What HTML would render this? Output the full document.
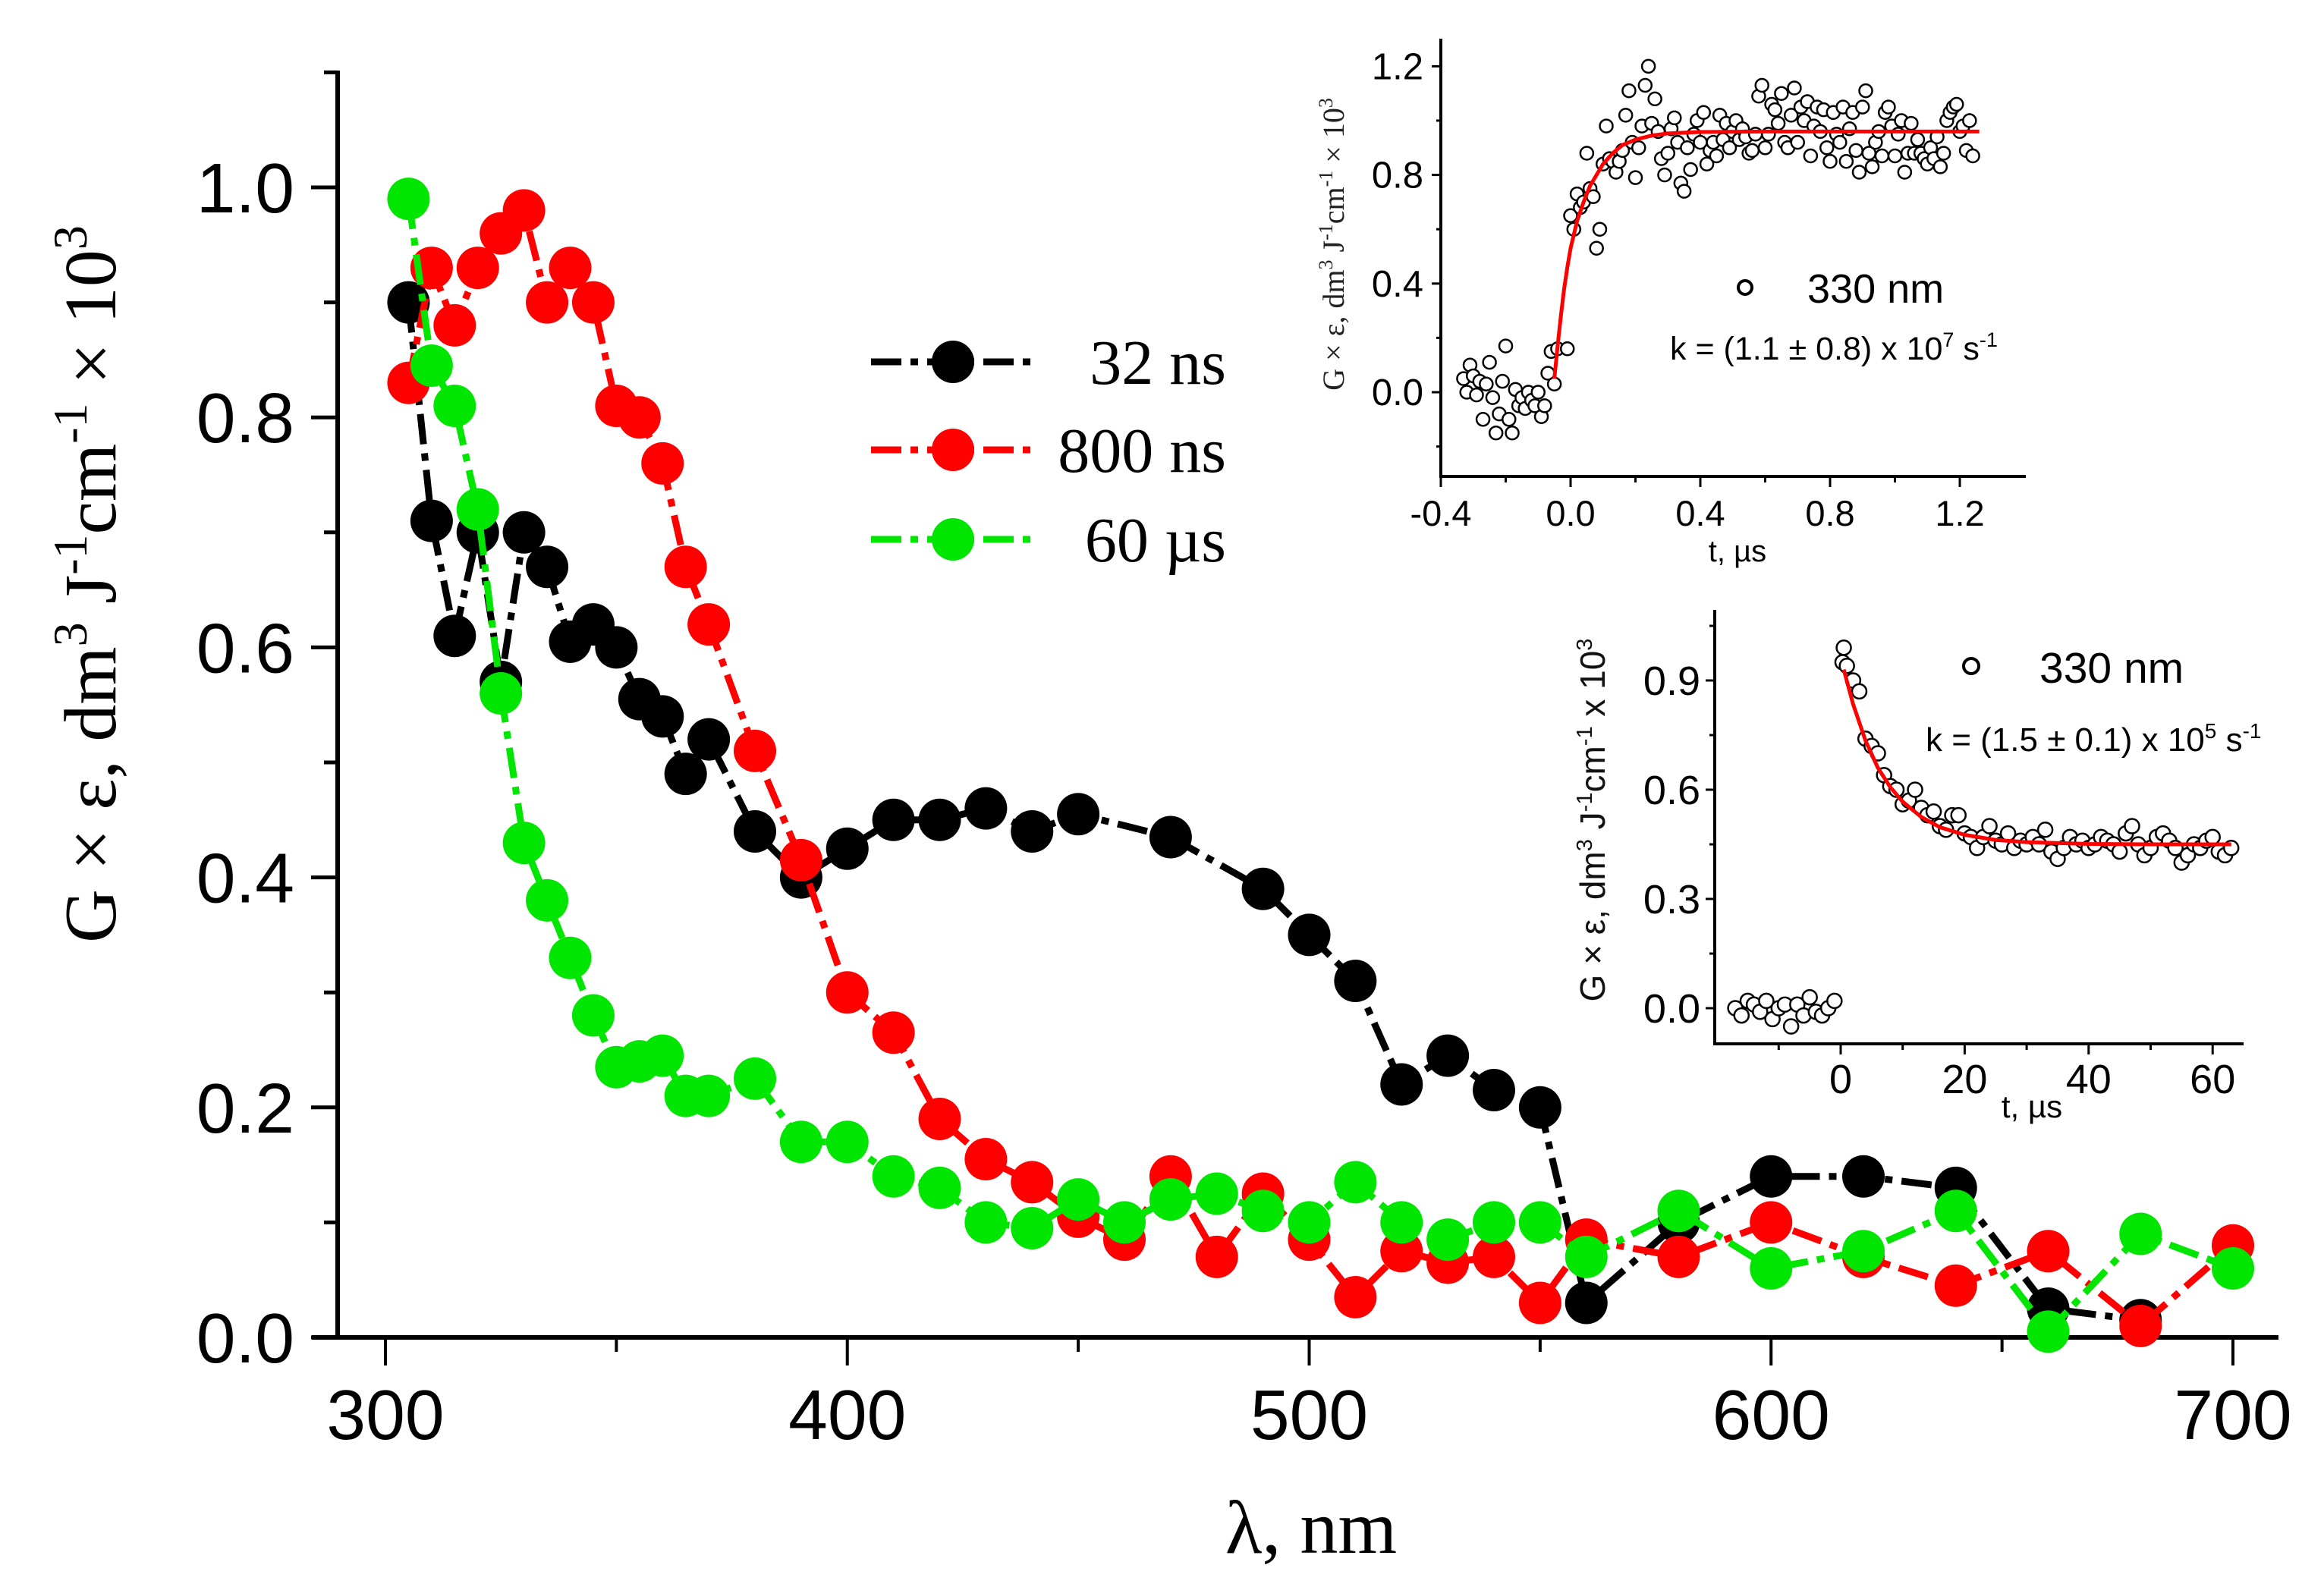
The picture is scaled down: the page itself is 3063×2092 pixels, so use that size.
<!DOCTYPE html>
<html><head><meta charset="utf-8"><style>
html,body{margin:0;padding:0;background:#fff}
svg{display:block}
.ar{font-family:"Liberation Sans",Arial,sans-serif}
.tm{font-family:"Liberation Serif","Times New Roman",serif}
</style></head><body>
<svg id="chart" width="3063" height="2092" viewBox="0 0 3063 2092" xmlns="http://www.w3.org/2000/svg">
<g id="main"></g>
<g id="in1"></g>
<g id="in2"></g>
</svg>
<script>
// ---- main chart data ----
const wl32 = [305,310,315,320,325,330,335,340,345,350,355,360,365,370,380,390,400,410,420,430,440,450,470,490,500,510,520,530,540,550,560,580,600,620,640,660,680];
const val32 = [0.90,0.71,0.61,0.70,0.57,0.70,0.67,0.605,0.62,0.60,0.555,0.54,0.49,0.52,0.44,0.40,0.425,0.45,0.45,0.46,0.44,0.455,0.435,0.39,0.35,0.31,0.22,0.245,0.215,0.20,0.03,0.10,0.14,0.14,0.13,0.025,0.015];
const wl800 = [305,310,315,320,325,330,335,340,345,350,355,360,365,370,380,390,400,410,420,430,440,450,460,470,480,490,500,510,520,530,540,550,560,580,600,620,640,660,680,700];
const val800 = [0.83,0.93,0.88,0.93,0.96,0.98,0.90,0.93,0.90,0.81,0.80,0.76,0.67,0.62,0.51,0.415,0.30,0.265,0.19,0.155,0.135,0.105,0.085,0.14,0.07,0.125,0.085,0.035,0.075,0.065,0.07,0.03,0.085,0.07,0.10,0.07,0.045,0.075,0.01,0.08];
const wl60 = [305,310,315,320,325,330,335,340,345,350,355,360,365,370,380,390,400,410,420,430,440,450,460,470,480,490,500,510,520,530,540,550,560,580,600,620,640,660,680,700];
const val60 = [0.99,0.845,0.81,0.72,0.56,0.43,0.38,0.33,0.28,0.235,0.24,0.245,0.21,0.21,0.225,0.17,0.17,0.14,0.13,0.10,0.095,0.12,0.10,0.12,0.125,0.11,0.10,0.135,0.10,0.085,0.10,0.10,0.07,0.11,0.06,0.075,0.11,0.005,0.09,0.06];
const xTicks = [300,400,500,600,700];
const yTicks = [0.0,0.2,0.4,0.6,0.8,1.0];
const legendLabels = ["32 ns","800 ns","60 \u00b5s"];

// ---- inset 1 data ----
const t1 = [-0.33,-0.32,-0.31,-0.30,-0.29,-0.28,-0.27,-0.26,-0.25,-0.24,-0.23,-0.22,-0.21,-0.20,-0.19,-0.18,-0.17,-0.16,-0.15,-0.14,-0.13,-0.12,-0.11,-0.10,-0.09,-0.08,-0.07,-0.06,-0.05,-0.04,-0.01,0.0,0.01,0.02,0.03,0.04,0.05,0.06,0.07,0.08,0.09,0.10,0.11,0.12,0.13,0.14,0.15,0.16,0.17,0.18,0.19,0.20,0.21,0.22,0.23,0.24,0.25,0.26,0.27,0.28,0.29,0.30,0.31,0.32,0.33,0.34,0.35,0.36,0.37,0.38,0.39,0.40,0.41,0.42,0.43,0.44,0.45,0.46,0.47,0.48,0.49,0.50,0.51,0.52,0.53,0.54,0.55,0.56,0.57,0.58,0.59,0.60,0.61,0.62,0.63,0.64,0.65,0.66,0.67,0.68,0.69,0.70,0.71,0.72,0.73,0.74,0.75,0.76,0.77,0.78,0.79,0.80,0.81,0.82,0.83,0.84,0.85,0.86,0.87,0.88,0.89,0.90,0.91,0.92,0.93,0.94,0.95,0.96,0.97,0.98,0.99,1.00,1.01,1.02,1.03,1.04,1.05,1.06,1.07,1.08,1.09,1.10,1.11,1.12,1.13,1.14,1.15,1.16,1.17,1.18,1.19,1.20,1.21,1.22,1.23,1.24,1.25];
const v1 = [0.05,0.0,0.1,0.06,-0.01,0.04,-0.1,0.03,0.11,-0.02,-0.15,-0.08,0.04,0.17,-0.1,-0.15,0.01,-0.05,-0.02,-0.06,0.0,-0.03,-0.05,0.0,-0.09,-0.05,0.07,0.15,0.03,0.16,0.16,0.65,0.6,0.73,0.68,0.70,0.88,0.75,0.72,0.53,0.6,0.84,0.98,0.86,0.85,0.81,0.85,0.89,1.02,1.11,0.92,0.79,0.90,0.98,1.13,1.20,0.99,1.08,0.96,0.86,0.80,0.88,0.97,1.01,0.92,0.77,0.74,0.90,0.82,0.95,1.0,0.92,1.03,0.84,0.89,0.92,0.87,1.02,0.93,0.99,0.90,0.96,1.0,0.93,0.97,0.94,0.88,0.89,0.95,1.09,1.13,0.90,0.95,1.06,1.04,0.99,1.10,0.92,0.90,1.02,1.12,0.92,1.05,1.00,1.07,0.87,0.98,1.05,0.96,1.04,0.90,0.85,1.03,0.95,0.92,1.05,0.85,0.97,1.03,0.89,0.81,1.05,1.11,0.88,0.83,0.92,0.96,0.87,1.03,1.05,0.98,0.87,0.95,1.00,0.81,0.88,0.99,0.88,0.93,0.88,0.86,0.84,0.90,0.86,0.94,0.83,0.88,1.00,1.03,1.05,1.06,0.96,0.98,0.89,1.00,0.87];
const fitT1 = [-0.05,-0.04,-0.03,-0.02,-0.01,0,0.02,0.04,0.06,0.08,0.10,0.13,0.16,0.20,0.25,0.30,0.40,0.60,1.26];
const fitV1 = [0.05,0.17,0.28,0.38,0.46,0.53,0.63,0.70,0.76,0.80,0.84,0.88,0.91,0.93,0.945,0.953,0.958,0.96,0.96];
const x1Ticks = [-0.4,0.0,0.4,0.8,1.2];
const y1Ticks = [0.0,0.4,0.8,1.2];

// ---- inset 2 data ----
const t2 = [-17,-16,-15,-14,-13,-12,-11,-10,-9,-8,-7,-6,-5,-4,-3,-2,-1,0.3,0.5,1,2,3,4,5,6,7,8,9,10,11,12,13,14,15,16,17,18,19,20,21,22,23,24,25,26,27,28,29,30,31,32,33,34,35,36,37,38,39,40,41,42,43,44,45,46,47,48,49,50,51,52,53,54,55,56,57,58,59,60,61,62,63];
const v2 = [0.0,-0.02,0.02,0.01,-0.01,0.02,-0.03,0.0,0.01,-0.05,0.01,-0.02,0.03,-0.01,-0.02,0.0,0.02,0.95,0.99,0.94,0.90,0.87,0.74,0.72,0.70,0.64,0.61,0.60,0.56,0.57,0.60,0.55,0.53,0.54,0.50,0.49,0.53,0.53,0.48,0.47,0.44,0.47,0.50,0.46,0.45,0.48,0.44,0.46,0.45,0.47,0.45,0.49,0.43,0.41,0.44,0.47,0.45,0.46,0.44,0.45,0.47,0.46,0.45,0.43,0.48,0.50,0.45,0.42,0.44,0.47,0.48,0.46,0.44,0.40,0.42,0.45,0.44,0.46,0.47,0.43,0.42,0.44];
const fitT2 = [0.5,2,4,6,8,10,13,16,20,25,30,40,50,63];
const fitV2 = [0.93,0.835,0.735,0.66,0.607,0.567,0.525,0.497,0.476,0.462,0.456,0.451,0.45,0.45];
const x2Ticks = [0,20,40,60];
const y2Ticks = [0.0,0.3,0.6,0.9];

const NS = "http://www.w3.org/2000/svg";
function mk(parent, tag, attrs, text){
  const e = document.createElementNS(NS, tag);
  for (const k in attrs) e.setAttribute(k, attrs[k]);
  if (text !== undefined) e.textContent = text;
  parent.appendChild(e);
  return e;
}

// ================= MAIN =================
const M = document.getElementById('main');
const mx = v => 508 + (v - 300) * 6.0875;
const my = v => 1763 - v * 1516;
let e;
e = mk(M,'line',{x1:445,y1:93,x2:445,y2:1766,stroke:'#000','stroke-width':6});
 
e = mk(M,'line',{x1:411,y1:1763,x2:3003,y2:1763,stroke:'#000','stroke-width':6});
 
for (let v = 300; v <= 700; v += 50) {
  const major = v % 100 === 0;
  e = mk(M,'line',{x1:mx(v),y1:1763,x2:mx(v),y2:major?1800:1782,stroke:'#000','stroke-width':4});
   
}
xTicks.forEach(v => {
  e = mk(M,'text',{x:mx(v),y:1897,'text-anchor':'middle','font-size':93,class:'ar'},String(v));
   
});
for (let i = 0; i <= 11; i++) {
  const v = i / 10, major = i % 2 === 0;
  e = mk(M,'line',{x1:major?410:427,y1:my(v),x2:445,y2:my(v),stroke:'#000','stroke-width':5});
   
}
yTicks.forEach(v => {
  e = mk(M,'text',{x:388,y:my(v)+33,'text-anchor':'end','font-size':93,class:'ar'},v.toFixed(1));
   
});
e = mk(M,'text',{x:1728,y:2047,'text-anchor':'middle','font-size':100,class:'tm'},'\u03bb, nm');
 
e = mk(M,'text',{transform:'translate(152,770) rotate(-90)','text-anchor':'middle','font-size':98,class:'tm'});
 
e.innerHTML = 'G \u00d7 \u03b5, dm<tspan dy="-38" font-size="64">3</tspan><tspan dy="38"> J</tspan><tspan dy="-38" font-size="64">-1</tspan><tspan dy="38">cm</tspan><tspan dy="-38" font-size="64">-1</tspan><tspan dy="38"> \u00d7 10</tspan><tspan dy="-38" font-size="64">3</tspan>';

const series = [
  {wl: wl32, val: val32, color: '#000000', name: 'series-32ns'},
  {wl: wl800, val: val800, color: '#ff0000', name: 'series-800ns'},
  {wl: wl60, val: val60, color: '#00e600', name: 'series-60us'}
];
series.forEach(s => {
  const g = mk(M,'g',{});
  
  
  const pts = s.wl.map((w,i) => mx(w)+','+my(s.val[i])).join(' ');
  e = mk(g,'polyline',{points:pts,fill:'none',stroke:s.color,'stroke-width':9,'stroke-dasharray':'40 12 10 12','stroke-linejoin':'round'});
   
  s.wl.forEach((w,i) => {
    e = mk(g,'circle',{cx:mx(w),cy:my(s.val[i]),r:28,fill:s.color});
     
  });
});
const legY = [477, 593, 711];
const lg = mk(M,'g',{});
 
series.forEach((s,i) => {
  e = mk(lg,'line',{x1:1148,y1:legY[i],x2:1364,y2:legY[i],stroke:s.color,'stroke-width':9,'stroke-dasharray':'40 12 10 12'});
   
  e = mk(lg,'circle',{cx:1256,cy:legY[i],r:28,fill:s.color});
   
  e = mk(lg,'text',{x:1616,y:legY[i]+29,'text-anchor':'end','font-size':84,class:'tm'},legendLabels[i]);
   
});

// ================= INSET 1 =================
const I1 = document.getElementById('in1');
const ax1 = t => 1899 + (t + 0.4) * 427.5;
const ay1 = v => 517 - v * 358;
e = mk(I1,'line',{x1:1899,y1:51,x2:1899,y2:630,stroke:'#000','stroke-width':4});
 
e = mk(I1,'line',{x1:1897,y1:628,x2:2670,y2:628,stroke:'#000','stroke-width':4});
 
for (let i = -2; i <= 6; i++) {
  const t = i * 0.2, major = i % 2 === 0;
  e = mk(I1,'line',{x1:ax1(t),y1:628,x2:ax1(t),y2:major?642:636,stroke:'#000','stroke-width':3});
   
}
x1Ticks.forEach(t => {
  e = mk(I1,'text',{x:ax1(t),y:693,'text-anchor':'middle','font-size':47,class:'ar'},t.toFixed(1));
   
});
for (let i = -1; i <= 6; i++) {
  const v = i * 0.2, major = i % 2 === 0;
  e = mk(I1,'line',{x1:major?1887:1893,y1:ay1(v),x2:1899,y2:ay1(v),stroke:'#000','stroke-width':3});
   
}
y1Ticks.forEach(v => {
  e = mk(I1,'text',{x:1876,y:ay1(v)+17,'text-anchor':'end','font-size':49,class:'ar'},v.toFixed(1));
   
});
e = mk(I1,'text',{x:2290,y:740,'text-anchor':'middle','font-size':40,class:'ar'},'t, \u00b5s');
 
e = mk(I1,'text',{transform:'translate(1771,322) rotate(-90)','text-anchor':'middle','font-size':40,class:'tm',fill:'#222'});
 
e.innerHTML = 'G \u00d7 \u03b5, dm<tspan dy="-15" font-size="26">3</tspan><tspan dy="15"> J</tspan><tspan dy="-15" font-size="26">-1</tspan><tspan dy="15">cm</tspan><tspan dy="-15" font-size="26">-1</tspan><tspan dy="15"> \u00d7 10</tspan><tspan dy="-15" font-size="26">3</tspan>';
const n1 = Math.min(t1.length, v1.length);
for (let i = 0; i < n1; i++) {
  e = mk(I1,'circle',{cx:ax1(t1[i]),cy:ay1(v1[i]),r:8.5,fill:'#fff',stroke:'#000','stroke-width':2.5});
   
}
e = mk(I1,'polyline',{points:fitT1.map((t,i)=>ax1(t)+','+ay1(fitV1[i])).join(' '),fill:'none',stroke:'#ff0000','stroke-width':5,'stroke-linejoin':'round'});
 
e = mk(I1,'circle',{cx:2300,cy:379,r:9,fill:'#fff',stroke:'#000','stroke-width':4});
 
e = mk(I1,'text',{x:2382,y:399,'font-size':54,class:'ar'},'330 nm');
 
e = mk(I1,'text',{x:2201,y:474,'font-size':43,class:'ar'});
 
e.innerHTML = 'k = (1.1 \u00b1 0.8) x 10<tspan dy="-17" font-size="27">7</tspan><tspan dy="17"> s</tspan><tspan dy="-17" font-size="27">-1</tspan>';

// ================= INSET 2 =================
const I2 = document.getElementById('in2');
const ax2 = t => 2426 + t * 8.17;
const ay2 = v => 1329 - v * 480;
e = mk(I2,'line',{x1:2260,y1:804,x2:2260,y2:1378,stroke:'#000','stroke-width':4});
 
e = mk(I2,'line',{x1:2258,y1:1376,x2:2957,y2:1376,stroke:'#000','stroke-width':4});
 
for (let t = -10; t <= 60; t += 10) {
  const major = t % 20 === 0;
  e = mk(I2,'line',{x1:ax2(t),y1:1376,x2:ax2(t),y2:major?1390:1384,stroke:'#000','stroke-width':3});
   
}
x2Ticks.forEach(t => {
  e = mk(I2,'text',{x:ax2(t),y:1441,'text-anchor':'middle','font-size':54,class:'ar'},String(t));
   
});
for (let i = 0; i <= 7; i++) {
  const v = i * 0.15, major = i % 2 === 0;
  e = mk(I2,'line',{x1:major?2248:2253,y1:ay2(v),x2:2260,y2:ay2(v),stroke:'#000','stroke-width':3});
   
}
y2Ticks.forEach(v => {
  e = mk(I2,'text',{x:2241,y:ay2(v)+19,'text-anchor':'end','font-size':54,class:'ar'},v.toFixed(1));
   
});
e = mk(I2,'text',{x:2678,y:1473,'text-anchor':'middle','font-size':42,class:'ar'},'t, \u00b5s');
 
e = mk(I2,'text',{transform:'translate(2115,1081) rotate(-90)','text-anchor':'middle','font-size':46,class:'ar',fill:'#111'});
 
e.innerHTML = 'G \u00d7 \u03b5, dm<tspan dy="-17" font-size="29">3</tspan><tspan dy="17"> J</tspan><tspan dy="-17" font-size="29">-1</tspan><tspan dy="17">cm</tspan><tspan dy="-17" font-size="29">-1</tspan><tspan dy="17"> x 10</tspan><tspan dy="-17" font-size="29">3</tspan>';
const n2 = Math.min(t2.length, v2.length);
for (let i = 0; i < n2; i++) {
  e = mk(I2,'circle',{cx:ax2(t2[i]),cy:ay2(v2[i]),r:9.5,fill:'#fff',stroke:'#000','stroke-width':2.5});
   
}
e = mk(I2,'polyline',{points:fitT2.map((t,i)=>ax2(t)+','+ay2(fitV2[i])).join(' '),fill:'none',stroke:'#ff0000','stroke-width':5,'stroke-linejoin':'round'});
 
e = mk(I2,'circle',{cx:2598,cy:878,r:10,fill:'#fff',stroke:'#000','stroke-width':4});
 
e = mk(I2,'text',{x:2688,y:900,'font-size':57,class:'ar'},'330 nm');
 
e = mk(I2,'text',{x:2538,y:990,'font-size':44,class:'ar'});
 
e.innerHTML = 'k = (1.5 \u00b1 0.1) x 10<tspan dy="-17" font-size="28">5</tspan><tspan dy="17"> s</tspan><tspan dy="-17" font-size="28">-1</tspan>';
</script>
</body></html>
